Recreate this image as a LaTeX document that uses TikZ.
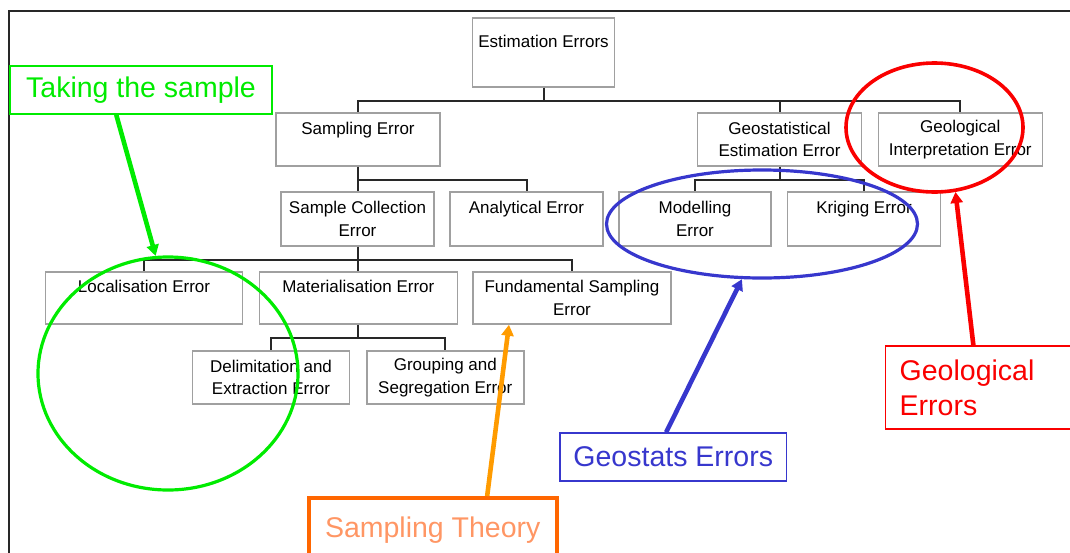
\documentclass[tikz,border=0pt]{standalone}
\usepackage{fontspec}
\setmainfont{Liberation Sans}
\usetikzlibrary{shapes.geometric,arrows.meta}
\definecolor{boxgray}{RGB}{160,160,160}
\definecolor{linegray}{RGB}{40,40,40}
\definecolor{takegreen}{RGB}{0,235,0}
\definecolor{geoblue}{RGB}{55,55,205}
\definecolor{geored}{RGB}{250,0,0}
\definecolor{theoryorange}{RGB}{255,102,0}
\definecolor{theorytext}{RGB}{255,150,100}
\definecolor{arroworange}{RGB}{255,155,0}
\begin{document}
\begin{tikzpicture}[x=1pt,y=-1pt,
    errbox/.style={draw=boxgray,line width=1.5pt,align=center,inner sep=2pt,
        font=\fontsize{17}{22.5}\selectfont},
    treeline/.style={draw=linegray,line width=2pt},
    notebox/.style={draw,line width=1.5pt,inner sep=0pt,
        font=\fontsize{28.5}{35}\selectfont},
    ringmark/.style={ellipse,draw,line width=3.2pt,inner sep=0pt},
    pointarrow/.style={line width=4.6pt,-{Triangle[length=11pt,width=12pt]}}]
    \useasboundingbox (0,0) rectangle (1070,552);
    % outer frame
    \draw[linegray,line width=1.8pt] (8.6,570) |- (1090,11);
    % tree of errors
    \node[errbox,minimum width=142pt,minimum height=69pt] (est) at (543.5,52.5) {Estimation Errors\\~};
    \node[errbox,minimum width=164pt,minimum height=53pt] (samp) at (358,139.5) {Sampling Error\\~};
    \node[errbox,minimum width=164pt,minimum height=53pt] (geostat) at (779.5,139.5) {Geostatistical\\Estimation Error};
    \node[errbox,minimum width=164pt,minimum height=53pt] (geolint) at (960.3,139.5) {Geological\\Interpretation Error};
    \node[errbox,minimum width=153pt,minimum height=54pt] (scoll) at (357.5,219) {Sample Collection\\Error};
    \node[errbox,minimum width=153pt,minimum height=54pt] (anal) at (526.5,219) {Analytical Error\\~};
    \node[errbox,minimum width=152pt,minimum height=54pt] (model) at (695,219) {Modelling\\Error};
    \node[errbox,minimum width=153pt,minimum height=54pt] (krig) at (864,219) {Kriging Error\\~};
    \node[errbox,minimum width=197pt,minimum height=52pt] (local) at (144,298) {Localisation Error\\~};
    \node[errbox,minimum width=198pt,minimum height=52pt] (mater) at (358.3,298) {Materialisation Error\\~};
    \node[errbox,minimum width=198pt,minimum height=52pt] (fund) at (572,298) {Fundamental Sampling\\Error};
    \node[errbox,minimum width=157pt,minimum height=53pt] (delim) at (271,377.5) {Delimitation and\\Extraction Error};
    \node[errbox,minimum width=157pt,minimum height=53pt] (group) at (445.3,377.5) {Grouping and\\Segregation Error};
    \foreach \p/\c in {est/samp,est/geostat,est/geolint,samp/scoll,samp/anal,
        geostat/model,geostat/krig,scoll/local,scoll/mater,scoll/fund,mater/delim,mater/group}
        \draw[treeline] (\p.south) -- ++(0,13) -| (\c.north);
    % rings round the groups
    \node[ringmark,draw=takegreen,minimum width=260pt,minimum height=233pt] (takering) at (168,373.5) {};
    \node[ringmark,draw=geoblue,minimum width=311pt,minimum height=108pt] (georing) at (762,224) {};
    \node[ringmark,draw=geored,line width=3.6pt,minimum width=177pt,minimum height=129pt] (geolring) at (934.5,127.5) {};
    % notes
    \node[notebox,draw=takegreen,text=takegreen,minimum width=262pt,minimum height=48pt] (take) at (141,90) {Taking the sample};
    \node[notebox,draw=geoblue,text=geoblue,minimum width=226.5pt,minimum height=48pt] (geonote) at (673.25,457) {Geostats Errors};
    \node[notebox,draw=geored,text=geored,align=left,text width=170pt,inner xsep=14pt,minimum height=83pt] (geolnote) at (984.7,387.5) {Geological\\Errors};
    \node[notebox,draw=theoryorange,line width=4pt,text=theorytext,minimum width=248.5pt,minimum height=64pt] (theory) at (432.75,530) {Sampling Theory};
    \draw[pointarrow,takegreen] (take.225) -- (takering.96);
    \draw[pointarrow,geoblue] (geonote.106) -- (georing.250);
    \draw[pointarrow,geored] (geolnote.105) -- (geolring.288);
    \draw[pointarrow,arroworange] (theory.32) -- (fund.203);
\end{tikzpicture}
\end{document}
